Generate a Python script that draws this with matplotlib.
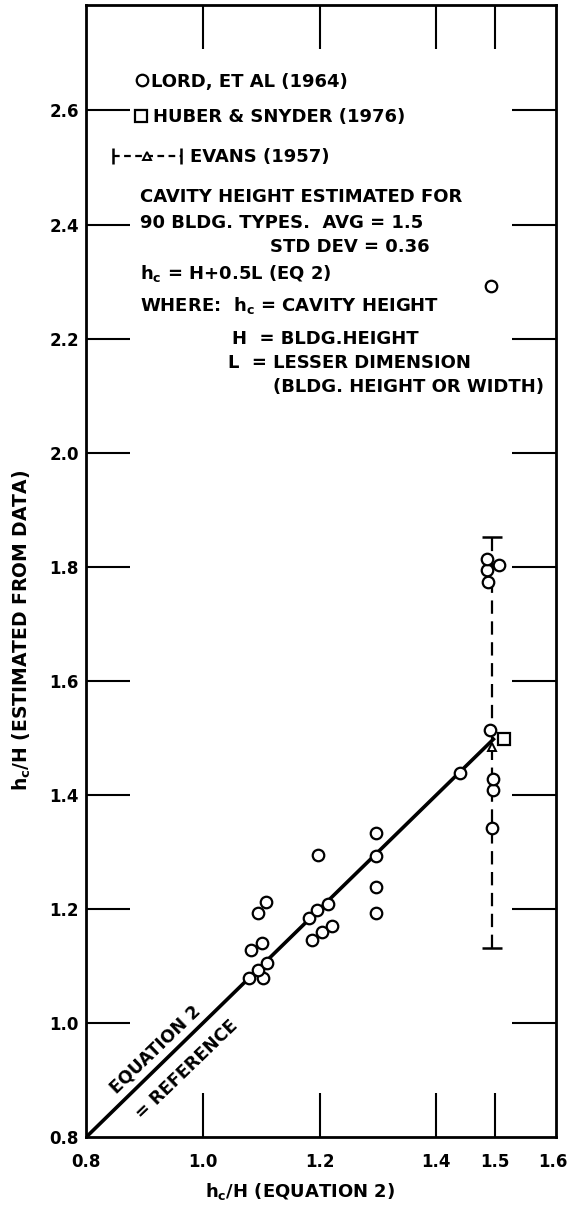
import numpy as np
import matplotlib
matplotlib.use("Agg")
import matplotlib.pyplot as plt

plt.rcParams['font.family'] = ['DejaVu Sans']
plt.rcParams['font.weight'] = 'bold'
plt.rcParams['mathtext.fontset'] = 'dejavusans'
plt.rcParams['mathtext.default'] = 'bf'

# Lord, et al (1964) - circles
lord_x = [1.080, 1.104, 1.083, 1.094, 1.110, 1.101, 1.094, 1.108,
          1.187, 1.205, 1.222, 1.182, 1.196, 1.214, 1.197,
          1.296, 1.296, 1.296, 1.296,
          1.441,
          1.495, 1.497, 1.497, 1.492, 1.489, 1.487, 1.507, 1.487, 1.494]
lord_y = [1.080, 1.079, 1.128, 1.094, 1.106, 1.141, 1.194, 1.212,
          1.146, 1.160, 1.170, 1.184, 1.198, 1.209, 1.294,
          1.193, 1.239, 1.293, 1.333,
          1.438,
          1.342, 1.408, 1.428, 1.514, 1.774, 1.794, 1.803, 1.813, 2.292]

# Huber & Snyder (1976) - square
huber_x = [1.516]
huber_y = [1.499]

# Evans (1957) - triangle with range
evans_x = [1.495]
evans_y = [1.485]
evans_lo = [0.354]
evans_hi = [0.368]

# equation 2 reference line
ref_x = [0.8, 1.5]
ref_y = [0.8, 1.5]

x_ticks = [0.8, 1.0, 1.2, 1.4, 1.5, 1.6]
x_labels = ['0.8', '1.0', '1.2', '1.4', '1.5', '1.6']
y_ticks = [0.8, 1.0, 1.2, 1.4, 1.6, 1.8, 2.0, 2.2, 2.4, 2.6]
y_labels = ['0.8', '1.0', '1.2', '1.4', '1.6', '1.8', '2.0', '2.2', '2.4', '2.6']

W, H = 571, 1211
fig = plt.figure(figsize=(W / 100, H / 100), dpi=100)
ax = fig.add_axes([86 / W, 1 - 1137.3 / H, 470 / W, 1132.3 / H])


def fp(x, y):
    # figure pixel (from top-left) to figure fraction
    return x / W, 1 - y / H


ax.plot(ref_x, ref_y, color='k', lw=2.6, solid_capstyle='butt', zorder=2)

eb = ax.errorbar(evans_x, evans_y, yerr=[evans_lo, evans_hi], fmt='none',
                 ecolor='k', elinewidth=1.6, capsize=7.5, capthick=1.8, zorder=3)
eb.lines[2][0].set_linestyle((0, (6, 3.4)))

ax.plot(lord_x, lord_y, 'o', ms=8.3, mfc='white', mec='k', mew=1.6, zorder=5)
ax.plot(huber_x, huber_y, 's', ms=8, mfc='white', mec='k', mew=1.6, zorder=4)
ax.plot(evans_x, evans_y, '^', ms=6, mfc='white', mec='k', mew=1.4, zorder=6)

ax.set_xlim(0.8, 1.605)
ax.set_ylim(0.8, 0.8 + 1132.3 / 570.5)
ax.set_xticks(x_ticks)
ax.set_xticklabels(x_labels)
ax.set_yticks(y_ticks)
ax.set_yticklabels(y_labels)
ax.tick_params(direction='in', length=32, width=1.5, top=True, right=True,
               labelsize=12)
ax.tick_params(axis='x', pad=11)
ax.tick_params(axis='y', pad=5)
# no tick marks on the frame corners
for t in [ax.xaxis.get_major_ticks()[0], ax.xaxis.get_major_ticks()[-1],
          ax.yaxis.get_major_ticks()[0]]:
    t.tick1line.set_visible(False)
    t.tick2line.set_visible(False)
for s in ax.spines.values():
    s.set_linewidth(2)

# axis titles
fig.text(*fp(300, 1192), r'h$_c$/H (EQUATION 2)', ha='center', va='center', fontsize=13)
fig.text(*fp(22, 630), r'h$_c$/H (ESTIMATED FROM DATA)', ha='center', va='center',
         rotation=90, fontsize=13.5)

# line annotation
ax.text(0.918, 0.953, 'EQUATION 2', rotation=44, ha='center', va='center',
        fontsize=12.5, rotation_mode='anchor')
ax.text(0.972, 0.918, '= REFERENCE', rotation=44, ha='center', va='center',
        fontsize=12.5, rotation_mode='anchor')

# key
ax.plot(*fp(141.7, 80), 'o', ms=8.3, mfc='white', mec='k', mew=1.6,
        transform=fig.transFigure, clip_on=False)
ax.plot(*fp(140.7, 116), 's', ms=8, mfc='white', mec='k', mew=1.6,
        transform=fig.transFigure, clip_on=False)
ex0, ey = fp(113, 156)
ex1, _ = fp(181, 156)
exm, _ = fp(147, 156)
ax.plot([ex0, ex1], [ey, ey], color='k', lw=1.6, ls=(0, (3, 2)),
        transform=fig.transFigure, clip_on=False)
ax.plot([ex0, ex1], [ey, ey], '|', ms=11, mew=1.8, color='k',
        transform=fig.transFigure, clip_on=False)
ax.plot(exm, ey, '^', ms=6, mfc='white', mec='k', mew=1.4,
        transform=fig.transFigure, clip_on=False)

key_lines = [
    (151, 80, 'LORD, ET AL (1964)'),
    (153, 116, 'HUBER & SNYDER (1976)'),
    (190, 156, 'EVANS (1957)'),
    (140, 195, 'CAVITY HEIGHT ESTIMATED FOR'),
    (140, 221, '90 BLDG. TYPES.  AVG = 1.5'),
    (270, 246, 'STD DEV = 0.36'),
    (140, 272, r'h$_c$ = H+0.5L (EQ 2)'),
    (140, 304, r'WHERE:  h$_c$ = CAVITY HEIGHT'),
    (232, 338, 'H  = BLDG.HEIGHT'),
    (228, 362, 'L  = LESSER DIMENSION'),
    (273, 385, '(BLDG. HEIGHT OR WIDTH)'),
]
for x, y, s in key_lines:
    fig.text(*fp(x, y + 6.5), s, ha='left', va='baseline', fontsize=13)

fig.savefig('out.png', dpi=100)
